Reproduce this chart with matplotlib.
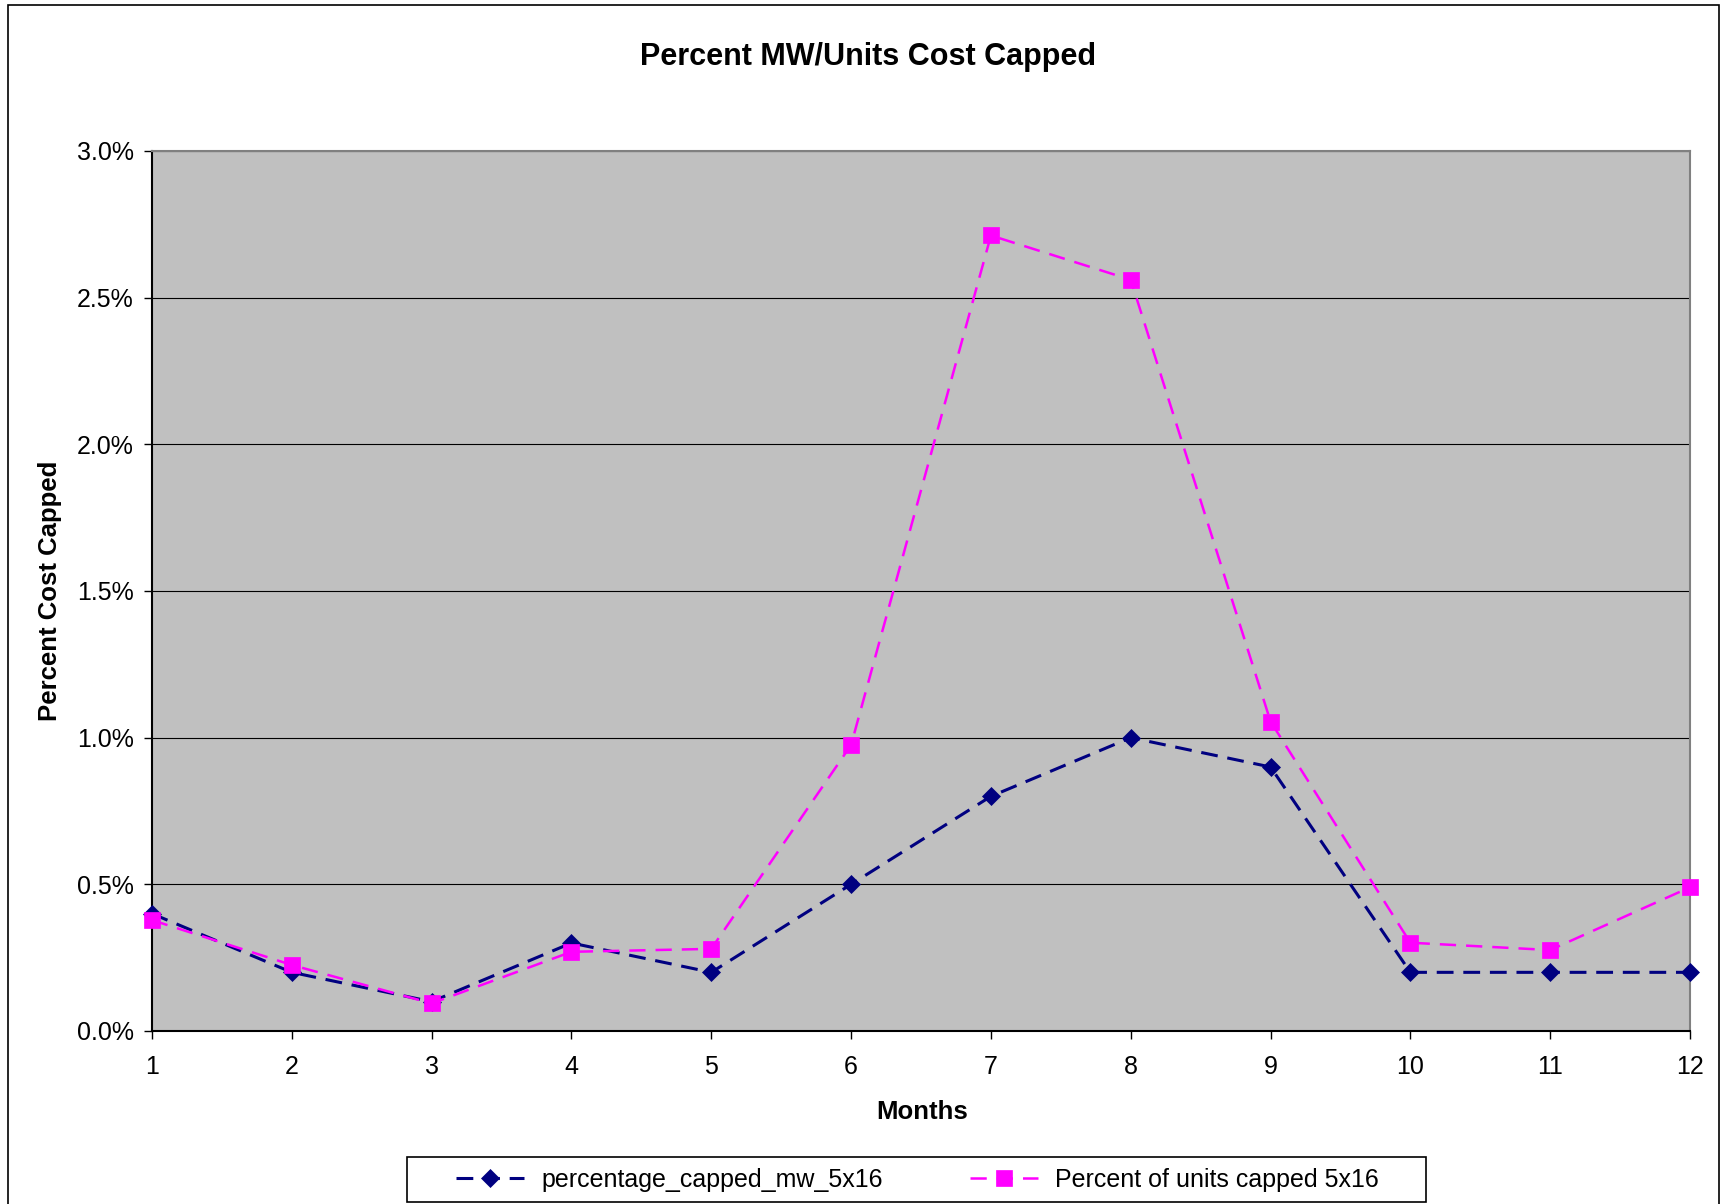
import matplotlib
matplotlib.use('Agg')
import matplotlib.pyplot as plt
from matplotlib.patches import Rectangle
from matplotlib.ticker import FuncFormatter

plt.rcParams['font.family'] = ['Liberation Sans', 'DejaVu Sans']

# data (values in percent)
months = [1, 2, 3, 4, 5, 6, 7, 8, 9, 10, 11, 12]
capped_mw = [0.4, 0.2, 0.1, 0.3, 0.2, 0.5, 0.8, 1.0, 0.9, 0.2, 0.2, 0.2]
units_capped = [0.378, 0.225, 0.094, 0.270, 0.280, 0.975, 2.712, 2.561, 1.055, 0.301, 0.276, 0.490]
yticks = [0.0, 0.5, 1.0, 1.5, 2.0, 2.5, 3.0]

W, H = 1731, 1204
fig = plt.figure(figsize=(W / 100, H / 100), dpi=100)
fig.patch.set_facecolor('white')

# outer chart border
fig.patches.append(Rectangle((8 / W, -0.01), (1719 - 8) / W, 1.01 - 5 / H,
                             transform=fig.transFigure, fill=False,
                             edgecolor='black', lw=1.2))

ax = fig.add_axes([152 / W, 1 - 1031 / H, 1538 / W, 880 / H])
ax.set_facecolor('#C0C0C0')

l1, = ax.plot(months, capped_mw, color='#000080', lw=2.2, dashes=(5.5, 3.2),
              marker='D', ms=9, mfc='#000080', mec='#000080', mew=0.5,
              clip_on=False, zorder=3, label='percentage_capped_mw_5x16')
l2, = ax.plot(months, units_capped, color='#FF00FF', lw=1.8, dashes=(6.5, 4),
              marker='s', ms=11.5, mfc='#FF00FF', mec='#FF00FF', mew=0.5,
              clip_on=False, zorder=4, label='Percent of units capped 5x16')

ax.set_xlim(1, 12)
ax.set_ylim(0, 3.0)
ax.set_xticks(months)
ax.set_yticks(yticks)
ax.yaxis.set_major_formatter(FuncFormatter(lambda v, p: f'{v:.1f}%'))
ax.grid(axis='y', color='black', lw=0.8)
ax.set_axisbelow(True)

ax.tick_params(axis='both', direction='out', length=6, width=1, labelsize=18,
               colors='black')
ax.tick_params(axis='x', pad=11)
ax.tick_params(axis='y', pad=7)

for s in ['left', 'bottom']:
    ax.spines[s].set_color('black')
    ax.spines[s].set_linewidth(1.5)
for s in ['top', 'right']:
    ax.spines[s].set_color('#808080')
    ax.spines[s].set_linewidth(1.5)

fig.text(0.5015, 1 - 57 / H, 'Percent MW/Units Cost Capped', ha='center', va='center',
         fontsize=22, fontweight='bold')
fig.text(922 / W, 1 - 1112 / H, 'Months', ha='center', va='center',
         fontsize=18.5, fontweight='bold')
fig.text(50 / W, 1 - 591 / H, 'Percent Cost Capped', ha='center', va='center',
         rotation=90, fontsize=18.5, fontweight='bold')

# legend box drawn separately
fig.patches.append(Rectangle((407 / W, 1 - 1202 / H), 1019 / W, 45 / H,
                             transform=fig.transFigure, fill=False,
                             edgecolor='black', lw=1.2))
fig.legend(handles=[l1, l2], loc='center', bbox_to_anchor=(917.5 / W, 1 - 1180 / H),
           ncol=2, frameon=False, fontsize=18, handlelength=2.7,
           handletextpad=0.7, columnspacing=3.5, numpoints=1, borderpad=0)

fig.savefig('out.png', dpi=100)
